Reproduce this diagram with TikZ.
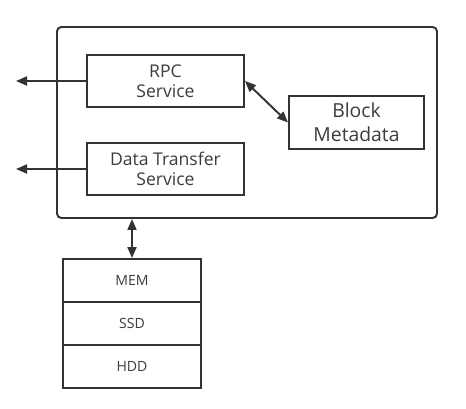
\documentclass[tikz,border=0pt]{standalone}
\usepackage{fontspec}
\setmainfont{Open Sans}
\usetikzlibrary{arrows.meta}

\definecolor{linegray}{HTML}{333333}
\definecolor{textgray}{HTML}{3C3C3C}

\tikzset{
	box/.style = {draw = linegray, line width = 1.1pt, text = textgray, align = center, inner sep = 0pt},
	link/.style = {draw = linegray, line width = 1.1pt, -{Triangle[length = 0.22cm, width = 0.18cm]}},
	biglink/.style = {link, {Triangle[length = 0.22cm, width = 0.18cm]}-{Triangle[length = 0.22cm, width = 0.18cm]}}
}

\begin{document}
\begin{tikzpicture}
		\useasboundingbox (0,0) rectangle (9.32,-8.16);

		\draw (4.94,-2.45) node[box, rounded corners = 2.5pt, minimum width = 7.6cm, minimum height = 3.82cm] (server) {};

		\draw (3.31,-1.62) node[box, font = \fontsize{10}{11.5}\selectfont, minimum width = 3.14cm, minimum height = 1.04cm] (rpc) {RPC\\Service};
		\draw (3.31,-3.38) node[box, font = \fontsize{10}{11.5}\selectfont, minimum width = 3.14cm, minimum height = 1.04cm] (transfer) {Data Transfer\\Service};
		\draw (7.13,-2.45) node[box, font = \fontsize{11}{13.5}\selectfont, minimum width = 2.7cm, minimum height = 1.06cm] (meta) {Block\\Metadata};

		\draw (2.64,-5.61) node[box, font = \fontsize{8}{9}\selectfont, minimum width = 2.76cm, minimum height = 0.86cm] (mem) {MEM};
		\draw (2.64,-6.47) node[box, font = \fontsize{8}{9}\selectfont, minimum width = 2.76cm, minimum height = 0.86cm] (ssd) {SSD};
		\draw (2.64,-7.33) node[box, font = \fontsize{8}{9}\selectfont, minimum width = 2.76cm, minimum height = 0.86cm] (hdd) {HDD};

		\coordinate (rpcout) at (0.32,-1.62);
		\coordinate (transferout) at (0.32,-3.38);

		\draw [link] (rpc.west) -- (rpcout);
		\draw [link] (transfer.west) -- (transferout);
		\draw [biglink] (rpc.east) -- (meta.west);
		\draw [biglink] (server.south -| mem.north) -- (mem.north);
	\end{tikzpicture}
\end{document}
